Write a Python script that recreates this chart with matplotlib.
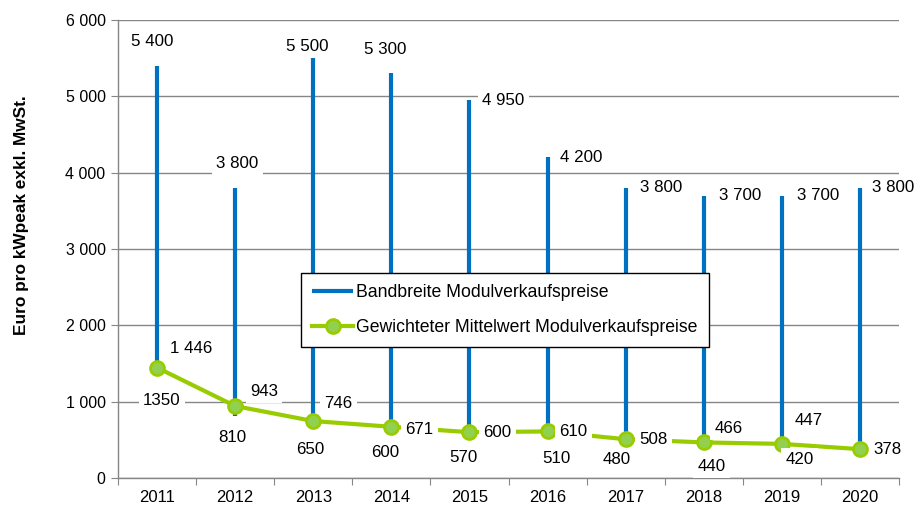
import matplotlib
matplotlib.use("Agg")
import matplotlib.pyplot as plt
from matplotlib.ticker import FuncFormatter, FixedLocator
import numpy as np

years = ["2011", "2012", "2013", "2014", "2015", "2016", "2017", "2018", "2019", "2020"]
max_price = [5400, 3800, 5500, 5300, 4950, 4200, 3800, 3700, 3700, 3800]
min_price = [1350, 810, 650, 600, 570, 510, 480, 440, 420, 350]
mean_price = [1446, 943, 746, 671, 600, 610, 508, 466, 447, 378]
max_labels = ["5 400", "3 800", "5 500", "5 300", "4 950", "4 200", "3 800", "3 700", "3 700", "3 800"]
min_labels = ["1350", "810", "650", "600", "570", "510", "480", "440", "420", None]
mean_labels = ["1 446", "943", "746", "671", "600", "610", "508", "466", "447", "378"]

# label offsets in pixels (dx, dy)
max_off = [(-5, 24), (2, 24), (-6, 12), (-6, 24), (34, 0), (34, 0), (35, 0), (36, 0), (36, 0), (33, 0)]
min_off = [(5, -26), (-3, -21), (-3, -21), (-6, -20), (-6, -23), (9, -19), (-9, -18), (8, -22), (18, -14), (0, 0)]
mean_off = [(34, 19), (29, 15), (25, 18), (28, -3), (28, 0), (26, 0), (28, 0), (25, 14), (27, 23), (28, 0)]

plt.rcParams['font.family'] = ['Liberation Sans', 'DejaVu Sans']

BLUE = "#0070C0"
GREEN = "#99CC00"
GREEN_FACE = "#92D050"
GRID = "#868686"
LABEL_FS = 12.2

fig = plt.figure(figsize=(9.16, 5.05), dpi=100)
ax = fig.add_axes([118/916, 1-478/505, 781/916, 458/505])

x = np.arange(len(years))
ax.vlines(x, min_price, max_price, colors=BLUE, linewidth=3, zorder=3,
          label="Bandbreite Modulverkaufspreise")
ax.plot(x, mean_price, color=GREEN, linewidth=3, marker='o', markersize=10,
        markerfacecolor=GREEN_FACE, markeredgecolor=GREEN, markeredgewidth=2, zorder=4,
        label="Gewichteter Mittelwert Modulverkaufspreise")

bbox = dict(boxstyle="square,pad=0.25", facecolor="white", edgecolor="none")
for i in range(len(years)):
    ax.annotate(max_labels[i], (x[i], max_price[i]), xytext=max_off[i], textcoords='offset pixels',
                ha='center', va='center', fontsize=LABEL_FS, bbox=bbox, zorder=6)
    if min_labels[i] is not None:
        ax.annotate(min_labels[i], (x[i], min_price[i]), xytext=min_off[i], textcoords='offset pixels',
                    ha='center', va='center', fontsize=LABEL_FS, bbox=bbox, zorder=6)
    ax.annotate(mean_labels[i], (x[i], mean_price[i]), xytext=mean_off[i], textcoords='offset pixels',
                ha='center', va='center', fontsize=LABEL_FS, bbox=bbox, zorder=6)

ax.set_xlim(-0.5, len(years) - 0.5)
ax.set_ylim(0, 6000)
ax.set_yticks(np.arange(0, 6001, 1000))
ax.yaxis.set_major_formatter(FuncFormatter(lambda v, p: f"{int(v):,}".replace(",", " ")))
ax.grid(axis='y', color=GRID, linewidth=1, zorder=0)
ax.set_axisbelow(True)

ax.xaxis.set_major_locator(FixedLocator(np.arange(-0.5, len(years), 1.0)))
ax.xaxis.set_minor_locator(FixedLocator(x))
ax.set_xticklabels([])
ax.set_xticklabels(years, minor=True)
ax.tick_params(axis='x', which='major', length=5, color=GRID, direction='out')
ax.tick_params(axis='x', which='minor', length=0, labelsize=12, pad=9)
ax.tick_params(axis='y', length=5, color=GRID, labelsize=11.5, pad=4)

for s in ['top', 'right']:
    ax.spines[s].set_visible(False)
for s in ['left', 'bottom']:
    ax.spines[s].set_color(GRID)
    ax.spines[s].set_linewidth(1)

ax.set_ylabel("Euro pro kWpeak exkl. MwSt.", fontsize=12.4, fontweight='bold')
ax.yaxis.set_label_coords((29 - 118) / 781, (478 - 215) / 458)

leg = ax.legend(loc='center', bbox_to_anchor=(0.4955, 0.367), fontsize=12.7, frameon=True,
                fancybox=False, framealpha=1, edgecolor='black', labelspacing=1.0,
                handlelength=2.3, borderpad=0.65, handletextpad=0.2, borderaxespad=0)
leg.get_frame().set_linewidth(1)
leg.set_zorder(10)

fig.savefig("out.png", dpi=100)
